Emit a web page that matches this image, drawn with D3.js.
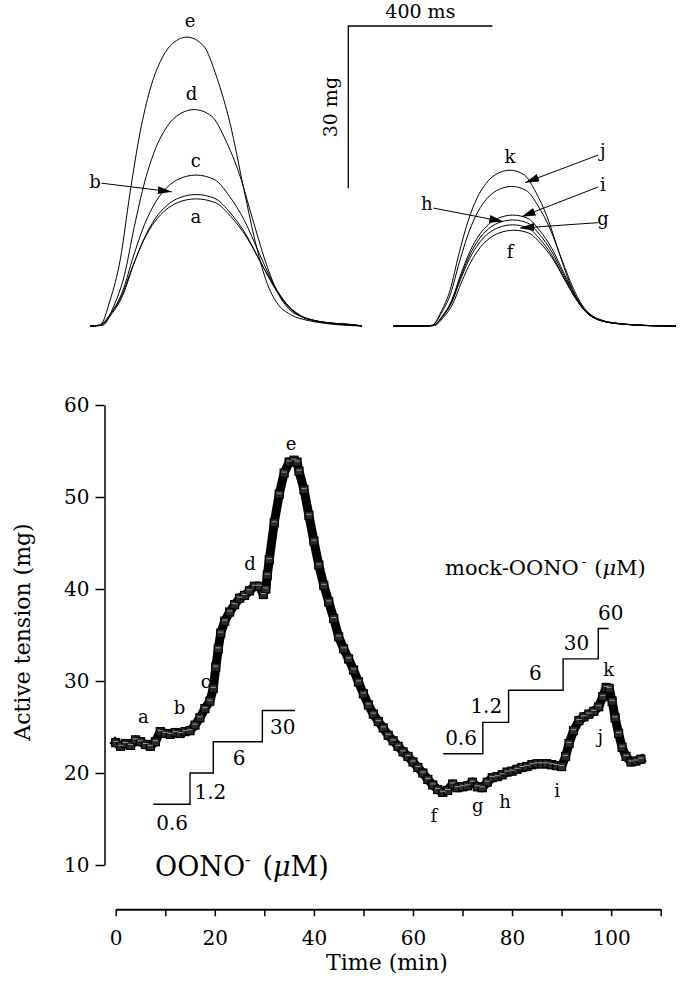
<!DOCTYPE html>
<html><head><meta charset="utf-8">
<script src="https://cdn.jsdelivr.net/npm/d3@7"></script>
<style>
body{margin:0;background:#fff}
svg{display:block}
text{font-family:"DejaVu Serif",serif;fill:#000}
</style>
</head><body>
<svg id="c" width="681" height="986"></svg>
<script>
// ================= DATA =================
// Bottom panel: active tension time course
const timeMin = [0,1,2,3,4,5,6,7,8,9,10,11,12,13,14,15,16,17,18,19,19.7,20.2,20.7,21.2,22,23,24,25,26,27,28,29,29.8,30.3,30.6,31,32,33,34,35,36,36.6,37,38,39,40,41,42,43,44,45,46,47,48,49,50,51,52,53,54,55,56,57,58,59,60,61,62,63,64,65,66,67,68,69,70,71,72,73,74,75,76,77,78,79,80,81,82,83,84,85,86,87,88,89,90,90.8,91.5,92.4,93.5,94.5,95.5,96.5,97.5,98.3,99,99.6,100.2,100.8,101.5,102.2,103,104,105,106];
const tensionMg = [23.3,22.9,23.2,23.0,23.6,23.4,23.1,22.9,23.4,24.5,24.3,24.2,24.4,24.3,24.5,24.6,25.2,26.0,27.0,27.8,29.2,31.5,33.5,35.2,36.5,37.5,38.3,39.0,39.3,39.8,40.3,40.3,39.4,40.0,41.5,43.2,47.2,50.3,52.6,53.8,54.0,53.8,52.8,50.8,48.0,45.2,42.6,40.4,38.6,36.8,34.8,33.5,32.4,31.2,29.9,28.6,27.4,26.4,25.6,24.9,24.1,23.5,22.9,22.3,21.8,21.2,20.6,20.0,19.3,18.7,18.2,17.9,18.1,18.8,18.4,18.5,18.6,19.0,18.5,18.4,19.0,19.5,19.6,19.8,20.1,20.2,20.4,20.6,20.7,20.9,21.0,21.0,21.0,20.9,20.8,20.7,21.8,23.2,24.6,25.7,26.1,26.4,26.7,27.2,28.3,29.3,29.2,27.8,26.0,24.3,22.8,21.8,21.2,21.3,21.5];

// letters marking sampled twitches (time, tension at label)
const pointLabels = ["a","b","c","d","e","f","g","h","i","j","k"];
const pointLabelTime = [5.6,12.9,18.2,27.1,35.4,64.2,73.1,78.6,89.1,97.8,99.5];
const pointLabelMg = [25.4,26.4,29.2,42.1,55.1,14.7,15.8,16.2,17.4,23.3,30.5];

// axes
const xTicks = [0,10,20,30,40,50,60,70,80,90,100,110];
const xTickLabels = [0,20,40,60,80,100];
const yTicks = [10,20,30,40,50,60];

// OONO- cumulative dosing staircase
const oonoDoseTime = [7.6,15,19.7,29.6];
const oonoEndTime = 36.2;
const oonoLevelMg = [16.6,20.0,23.4,26.8];
const oonoDoses = ["0.6","1.2","6","30"];
const oonoLabelTime = [11.4,19.1,24.9,33.7];
const oonoLabelMg = [13.8,17.2,20.9,24.2];

// mock-OONO- staircase
const mockDoseTime = [66.1,74.1,79.3,90.3,97.4];
const mockEndTime = 99.5;
const mockLevelMg = [22.1,25.5,29.0,32.4,35.7];
const mockDoses = ["0.6","1.2","6","30","60"];
const mockLabelTime = [69.7,74.8,84.7,93.0,99.9];
const mockLabelMg = [23.0,26.5,30.1,33.4,36.6];

const shapeDt = [-265,-240,-213,-185,-158,-130,-102,-74,-46,0,46,83,120,157,194,222,250,287,333,378,486];
const shapeF  = [0,0.005,0.09,0.23,0.46,0.67,0.82,0.915,0.97,1,0.97,0.86,0.70,0.48,0.27,0.15,0.08,0.04,0.02,0.01,0];

const leftNames = ["a","b","c","d","e"];
const leftAmpMg = [23.5,24.3,27.9,40.0,53.4];
const leftPeakMs = [294,294,294,289,269];
const leftRise = [1.12,1.10,1.10,1.05,1.0];
const leftDecay = [1.17,1.15,1.12,1.05,1.0];

const rightNames = ["f","g","h","i","j","k"];
const rightAmpMg = [17.7,18.7,19.6,20.5,25.8,28.8];
const rightPeakMs = [336,333,333,333,330,325];
const rightRise = [0.92,0.92,0.92,0.92,0.92,0.90];
const rightDecay = [0.90,0.90,0.90,0.90,0.88,0.86];

// trace label anchors (ms, mg), same order as names
const leftLabelMs = [294,14,294,282,278];
const leftLabelMg = [19.0,25.5,29.4,41.8,55.3];
const rightLabelMs = [325,583,93.6,583,583,325];
const rightLabelMg = [12.6,18.7,21.4,25.0,31.2,30.1];

// arrows (ms, mg): from label to trace
const arrowLeft = [{from:[32,26.4], to:[227,24.8]}]; // b
const arrowRight = [
  {from:[570,31.6], to:[367,26.5]}, // j
  {from:[570,25.7], to:[357,20.2]}, // i
  {from:[112,21.8], to:[306,19.3]}, // h
  {from:[570,19.1], to:[353,18.1]}  // g
];

const scaleBarMs = 400, scaleBarMg = 30;

// ================= DRAW =================
const svg = d3.select("#c");
const defs = svg.append("defs");
defs.append("marker").attr("id","ah").attr("viewBox","0 0 14 8")
  .attr("refX",14).attr("refY",4).attr("markerWidth",14).attr("markerHeight",8)
  .attr("markerUnits","userSpaceOnUse").attr("orient","auto")
  .append("path").attr("d","M0,0 L14,4 L0,8 Z").attr("fill","#000");

// ---- top panel scales ----
const mgY = d3.scaleLinear().domain([0,60]).range([326,326-60*5.41]);
const leftX = d3.scaleLinear().domain([0,755]).range([90,362]);
const rightX = d3.scaleLinear().domain([0,786]).range([393,676]);

const traceLine = d3.line().curve(d3.curveMonotoneX);
function tracePts(xs, end, amp, peak, rise, decay){
  const pts = [[0,0]];
  shapeDt.forEach((dt,i)=>{
    const t = peak + dt*(dt<0?rise:decay);
    if (t>0 && t<end) pts.push([t, amp*shapeF[i]]);
  });
  pts.push([end,0]);
  return pts.map(p=>[xs(p[0]), mgY(p[1])]);
}
const gT = svg.append("g");
leftNames.forEach((n,i)=>{
  gT.append("path").attr("d", traceLine(tracePts(leftX,755,leftAmpMg[i],leftPeakMs[i],leftRise[i],leftDecay[i])))
    .attr("fill","none").attr("stroke","#000").attr("stroke-width",1);
});
rightNames.forEach((n,i)=>{
  gT.append("path").attr("d", traceLine(tracePts(rightX,786,rightAmpMg[i],rightPeakMs[i],rightRise[i],rightDecay[i])))
    .attr("fill","none").attr("stroke","#000").attr("stroke-width",1);
});
leftNames.forEach((n,i)=>{
  gT.append("text").attr("x",leftX(leftLabelMs[i])).attr("y",mgY(leftLabelMg[i]))
    .attr("text-anchor","middle").attr("font-size",18).text(n);
});
rightNames.forEach((n,i)=>{
  gT.append("text").attr("x",rightX(rightLabelMs[i])).attr("y",mgY(rightLabelMg[i]))
    .attr("text-anchor","middle").attr("font-size",18).text(n);
});
arrowLeft.forEach(a=>{
  gT.append("line").attr("x1",leftX(a.from[0])).attr("y1",mgY(a.from[1]))
    .attr("x2",leftX(a.to[0])).attr("y2",mgY(a.to[1]))
    .attr("stroke","#000").attr("stroke-width",1).attr("marker-end","url(#ah)");
});
arrowRight.forEach(a=>{
  gT.append("line").attr("x1",rightX(a.from[0])).attr("y1",mgY(a.from[1]))
    .attr("x2",rightX(a.to[0])).attr("y2",mgY(a.to[1]))
    .attr("stroke","#000").attr("stroke-width",1).attr("marker-end","url(#ah)");
});
// scale bar
const sbX0 = 348.3, sbY0 = 26;
const sbW = leftX(scaleBarMs)-leftX(0), sbH = mgY(0)-mgY(scaleBarMg);
gT.append("path").attr("d",`M${sbX0+sbW},${sbY0}H${sbX0}V${sbY0+sbH}`)
  .attr("fill","none").attr("stroke","#000").attr("stroke-width",1.3);
gT.append("text").attr("x",sbX0+sbW/2).attr("y",sbY0-8).attr("text-anchor","middle")
  .attr("font-size",19).text(scaleBarMs+" ms");
gT.append("text").attr("transform",`translate(${sbX0-11},${sbY0+sbH/2}) rotate(-90)`)
  .attr("text-anchor","middle").attr("font-size",19).text(scaleBarMg+" mg");

// ---- bottom panel ----
const x = d3.scaleLinear().domain([0,110]).range([115.7,660.7]);
const y = d3.scaleLinear().domain([10,60]).range([865,405]);
const gB = svg.append("g");

// y axis
const yAx = gB.append("g").attr("transform","translate(104.5,0)")
  .call(d3.axisLeft(y).tickValues(yTicks).tickSize(9).tickSizeOuter(0).tickPadding(6));
yAx.select(".domain").attr("stroke-width",1.5);
yAx.selectAll(".tick line").attr("stroke-width",1.5);
yAx.selectAll("text").attr("font-size",20).attr("font-family","DejaVu Serif");

// x axis
const xAx = gB.append("g").attr("transform","translate(0,909.3)")
  .call(d3.axisBottom(x).tickValues(xTicks).tickSize(7).tickSizeOuter(0).tickPadding(15)
    .tickFormat(d=>xTickLabels.includes(d)?d:""));
xAx.select(".domain").attr("stroke-width",2);
xAx.selectAll(".tick line").attr("stroke-width",1.5);
xAx.selectAll("text").attr("font-size",20).attr("font-family","DejaVu Serif");

gB.append("text").attr("x",387).attr("y",970).attr("text-anchor","middle")
  .attr("font-size",22).text("Time (min)");
gB.append("text").attr("transform","translate(30,632) rotate(-90)")
  .attr("text-anchor","middle").attr("font-size",22).text("Active tension (mg)");

// staircases
function stairs(times, levels, end){
  const pts = [];
  times.forEach((t,i)=>{
    if (i>0) pts.push([x(t), y(levels[i-1])]);
    pts.push([x(t), y(levels[i])]);
  });
  pts.push([x(end), y(levels[levels.length-1])]);
  return d3.line()(pts);
}
gB.append("path").attr("d",stairs(oonoDoseTime,oonoLevelMg,oonoEndTime))
  .attr("fill","none").attr("stroke","#000").attr("stroke-width",1.4);
gB.append("path").attr("d",stairs(mockDoseTime,mockLevelMg,mockEndTime))
  .attr("fill","none").attr("stroke","#000").attr("stroke-width",1.4);
oonoDoses.forEach((d,i)=>{
  gB.append("text").attr("x",x(oonoLabelTime[i])).attr("y",y(oonoLabelMg[i]))
    .attr("text-anchor","middle").attr("font-size",20).text(d);
});
mockDoses.forEach((d,i)=>{
  gB.append("text").attr("x",x(mockLabelTime[i])).attr("y",y(mockLabelMg[i]))
    .attr("text-anchor","middle").attr("font-size",20).text(d);
});

// drug labels
const t1 = gB.append("text").attr("x",155).attr("y",876).attr("font-size",27);
t1.append("tspan").text("OONO");
t1.append("tspan").attr("dy",-11).attr("font-size",16).text("-");
t1.append("tspan").attr("dy",11).attr("dx",12).text("(");
t1.append("tspan").attr("font-style","italic").text("μ");
t1.append("tspan").text("M)");

const t2 = gB.append("text").attr("x",445).attr("y",575).attr("font-size",21);
t2.append("tspan").text("mock-OONO");
t2.append("tspan").attr("dy",-9).attr("font-size",13).attr("dx",3).text("-");
t2.append("tspan").attr("dy",9).attr("dx",8).text("(");
t2.append("tspan").attr("font-style","italic").text("μ");
t2.append("tspan").text("M)");

// data series: thick trace + square markers
const series = timeMin.map((t,i)=>[t,tensionMg[i]]);
gB.append("path").attr("d", d3.line().x(d=>x(d[0])).y(d=>y(d[1]))(series))
  .attr("fill","none").attr("stroke","#000").attr("stroke-width",9).attr("stroke-linejoin","round").attr("stroke-linecap","square");
gB.selectAll("rect.m").data(series).enter().append("rect").attr("class","m")
  .attr("x",d=>x(d[0])-4).attr("y",d=>y(d[1])-4).attr("width",8).attr("height",8)
  .attr("fill","#2a2a2a").attr("stroke","#000").attr("stroke-width",1.2);
gB.selectAll("line.hl").data(series).enter().append("line").attr("class","hl")
  .attr("x1",d=>x(d[0])-2.5).attr("x2",d=>x(d[0])+2.5)
  .attr("y1",d=>y(d[1])-1).attr("y2",d=>y(d[1])-1)
  .attr("stroke","#9a9a9a").attr("stroke-width",1);

pointLabels.forEach((n,i)=>{
  gB.append("text").attr("x",x(pointLabelTime[i])).attr("y",y(pointLabelMg[i]))
    .attr("text-anchor","middle").attr("font-size",18).text(n);
});
</script>
</body></html>
